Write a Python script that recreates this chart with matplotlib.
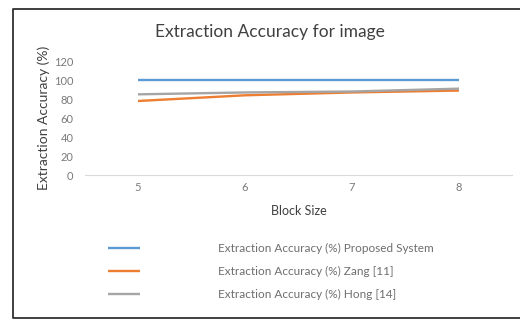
import matplotlib.pyplot as plt
from matplotlib.lines import Line2D

block_sizes = [5, 6, 7, 8]
proposed = [100, 100, 100, 100]
zang = [78, 84, 87, 89]
hong = [85, 87, 88, 91]

series_labels = [
    'Extraction Accuracy (%) Proposed System',
    'Extraction Accuracy (%) Zang [11]',
    'Extraction Accuracy (%) Hong [14]',
]
colors = ['#5B9BD5', '#ED7D31', '#A5A5A5']

plt.rcParams['font.family'] = ['Lato', 'DejaVu Sans']

fig = plt.figure(figsize=(5.2, 3.2), dpi=100)
ax = fig.add_axes([0.1625, 0.453, 0.823, 0.356])

x = list(range(len(block_sizes)))
for vals, lab, col in zip([proposed, zang, hong], series_labels, colors):
    ax.plot(x, vals, color=col, linewidth=1.7, label=lab, solid_capstyle='butt')

ax.set_xlim(-0.5, len(block_sizes) - 0.5)
ax.set_ylim(0, 120)
ax.set_yticks(range(0, 121, 20))
ax.set_xticks(x)
ax.set_xticklabels([str(b) for b in block_sizes])

for side in ['top', 'right', 'left']:
    ax.spines[side].set_visible(False)
ax.spines['bottom'].set_color('#D9D9D9')
ax.tick_params(length=0, labelsize=8, colors='#7A7A7A', pad=8)
ax.tick_params(axis='x', pad=5)

ax.set_ylabel('Extraction Accuracy (%)', fontsize=10, color='#404040', labelpad=3)
ax.set_xlabel('Block Size', fontsize=9, color='#404040', labelpad=9)
fig.text(0.519, 0.9, 'Extraction Accuracy for image', ha='center', va='center',
         fontsize=12.5, color='#404040')

fig.legend(loc='upper left', bbox_to_anchor=(0.2077, 0.24), frameon=False,
           fontsize=8.5, handlelength=2.7, handletextpad=6.6, labelspacing=1.0,
           labelcolor='#6E6E6E', borderaxespad=0, borderpad=0)

# outer frame around the chart (open on the right)
left, top, bottom = 12.5 / 520, 1 - 8.5 / 320, 2.5 / 320
frame = dict(transform=fig.transFigure, color='#303030', linewidth=1.3)
fig.add_artist(Line2D([1, left, left, 1], [top, top, bottom, bottom], **frame))

fig.savefig('out.png', dpi=100)
